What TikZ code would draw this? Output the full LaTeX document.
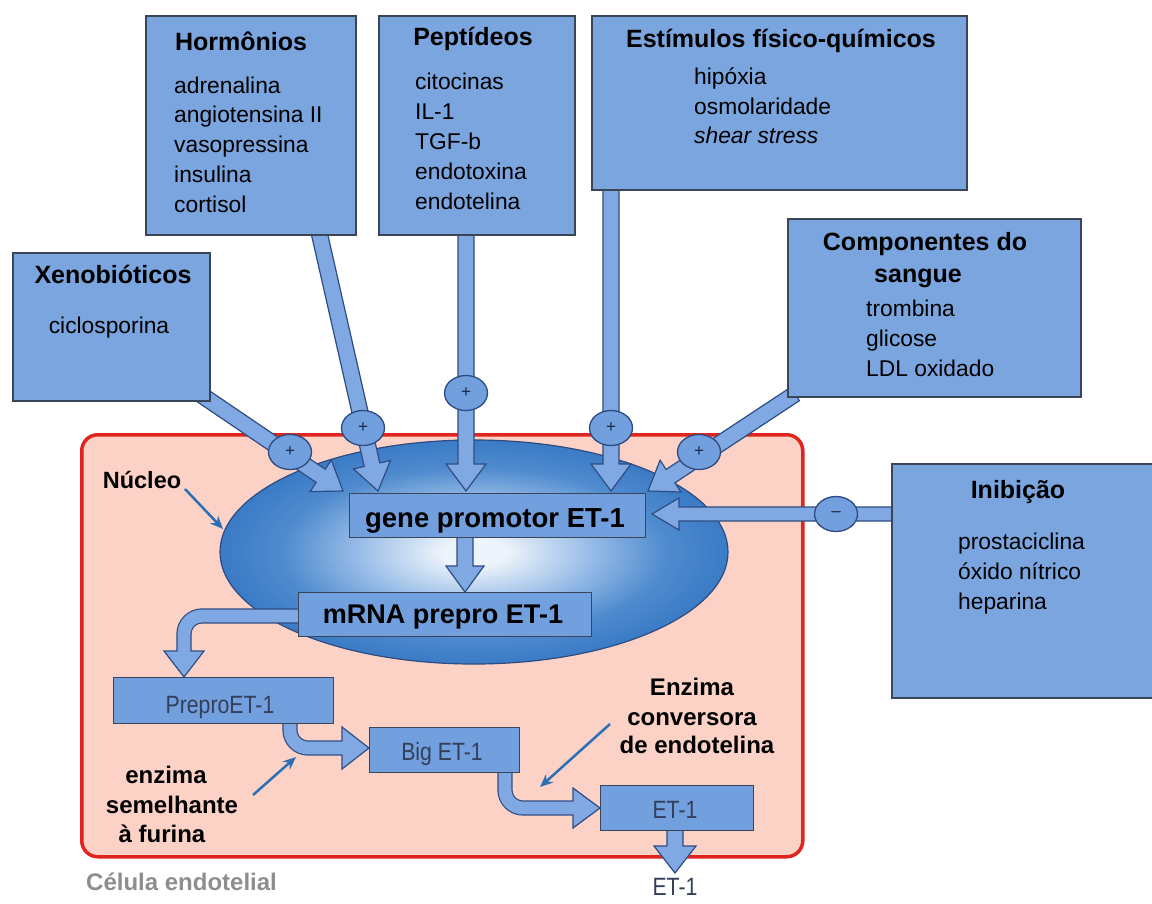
\documentclass[tikz,border=0pt]{standalone}
\usepackage{fontspec}
\setmainfont{Liberation Sans}
\newfontfamily\futura[FakeStretch=0.85]{Liberation Sans}
\usetikzlibrary{calc,shapes.geometric,arrows.meta}
\definecolor{boxfill}{HTML}{7BA5DF}
\definecolor{boxline}{HTML}{3B4558}
\definecolor{innerfill}{HTML}{729FDD}
\definecolor{arrfill}{HTML}{80A9E3}
\definecolor{arrline}{HTML}{2E4C82}
\definecolor{cellfill}{HTML}{FCD2C6}
\definecolor{cellline}{HTML}{E0241E}
\definecolor{nucout}{HTML}{3A7BC6}
\definecolor{nucmid}{HTML}{4E8ACE}
\definecolor{nuclight}{HTML}{93B9E6}
\definecolor{nucin}{HTML}{EEF4FB}
\definecolor{annot}{HTML}{2C6FB5}
\definecolor{slate}{HTML}{343F5A}
\definecolor{greytxt}{HTML}{8E8E8E}
\definecolor{pmtxt}{HTML}{1C2A40}
\pgfdeclareradialshading{nucshade}{\pgfpoint{0bp}{0bp}}{color(0bp)=(nucin); color(3bp)=(nucin); color(12bp)=(nuclight); color(19bp)=(nucmid); color(25bp)=(nucout); color(50bp)=(nucout)}
% straight fat arrow: start, tip, shaft half width, head half width, head length
\newcommand\fatarrow[5]{%
  \path ($(#2)!#5!(#1)$) coordinate (fah);
  \filldraw[fat] ($(#1)!#3!90:(#2)$) -- ($(fah)!#3!90:(#2)$) -- ($(fah)!#4!90:(#2)$) -- (#2)
     -- ($(fah)!#4!-90:(#2)$) -- ($(fah)!#3!-90:(#2)$) -- ($(#1)!#3!-90:(#2)$) -- cycle;}
% arrow head triangle: base centre, tip, half width
\newcommand\headtri[3]{%
  \filldraw[fat] ($(#1)!#3!90:(#2)$) -- (#2) -- ($(#1)!#3!-90:(#2)$) -- cycle;}
\tikzset{
  topbox/.style={draw=boxline, fill=boxfill, line width=1.5pt, anchor=north west, inner sep=0pt},
  innerbox/.style={draw=boxline, fill=innerfill, line width=1.3pt, anchor=north west, inner sep=0pt},
  title/.style={font=\bfseries\fontsize{25pt}{30pt}\selectfont, anchor=base, inner sep=0pt},
  item/.style={font=\fontsize{22.8pt}{27pt}\selectfont, anchor=base west, inner sep=0pt},
  fat/.style={fill=arrfill, draw=arrline, line width=1.2pt, line join=miter},
  shaftout/.style={draw=arrline, line width=15.2pt, rounded corners=18pt},
  shaftin/.style={draw=arrfill, line width=12.8pt, rounded corners=18pt},
  pm/.style={ellipse, draw=arrline, fill=innerfill, line width=1.3pt, minimum width=43pt, minimum height=35pt, inner sep=0pt, font=\fontsize{17pt}{17pt}\selectfont, text=pmtxt},
  lab/.style={font=\bfseries\fontsize{24pt}{30pt}\selectfont, anchor=base, inner sep=0pt},
  annarrow/.style={draw=annot, line width=2.5pt, -{Stealth[length=13pt,width=11pt]}},
  futtxt/.style={font=\futura\fontsize{25pt}{30pt}\selectfont, text=slate, anchor=base, inner sep=0pt}
}
\begin{document}
\begin{tikzpicture}[x=1pt,y=-1pt]
\useasboundingbox (0,0) rectangle (1152,903);
\fill[white] (0,0) rectangle (1152,903);
% cell
\node[draw=cellline, fill=cellfill, line width=3.5pt, rounded corners=16pt, minimum width=721pt, minimum height=422pt, anchor=north west, inner sep=0pt] (cell) at (80,433) {};
% nucleus
\node[ellipse, minimum width=508pt, minimum height=224pt, inner sep=0pt, shading=nucshade, draw=arrline, line width=1.2pt] (nucleo) at (474,552) {};
% inner arrows
\coordinate (gmS) at (465,535); \coordinate (gmT) at (465,592);
\fatarrow{gmS}{gmT}{8pt}{19pt}{26pt}
\coordinate (mp1) at (300,616); \coordinate (mp2) at (184,616); \coordinate (mp3) at (184,651); \coordinate (mpT) at (184,677); \coordinate (mp4) at (184,654);
\draw[shaftout] (mp1) -- (mp2) -- (mp3);
\headtri{mp3}{mpT}{20pt}
\draw[shaftin] (mp1) -- (mp2) -- (mp4);
\coordinate (pb1) at (290,721); \coordinate (pb2) at (290,748); \coordinate (pb3) at (342,748); \coordinate (pbT) at (369,748); \coordinate (pb4) at (345,748);
\draw[shaftout] (pb1) -- (pb2) -- (pb3);
\headtri{pb3}{pbT}{21pt}
\draw[shaftin] (pb1) -- (pb2) -- (pb4);
\coordinate (be1) at (505,770); \coordinate (be2) at (505,808); \coordinate (be3) at (573,808); \coordinate (beT) at (600,808); \coordinate (be4) at (576,808);
\draw[shaftout] (be1) -- (be2) -- (be3);
\headtri{be3}{beT}{20pt}
\draw[shaftin] (be1) -- (be2) -- (be4);
\coordinate (eoS) at (675,828); \coordinate (eoT) at (675,873);
\fatarrow{eoS}{eoT}{8pt}{21pt}{27pt}
% inner boxes
\node[innerbox, minimum width=296pt, minimum height=44pt] (gene) at (349,493) {};
\node[innerbox, minimum width=293pt, minimum height=44pt] (mrna) at (298,592) {};
\node[innerbox, minimum width=220pt, minimum height=46pt] (prepro) at (113,677) {};
\node[innerbox, minimum width=150pt, minimum height=45pt] (big) at (369,727) {};
\node[innerbox, minimum width=153pt, minimum height=45pt] (et) at (600,785) {};
\node[font=\bfseries\fontsize{27.5pt}{30pt}\selectfont, anchor=base, inner sep=0pt] (geneT) at (495,527) {gene promotor ET-1};
\node[font=\bfseries\fontsize{27pt}{30pt}\selectfont, anchor=base, inner sep=0pt] (mrnaT) at (443,623) {mRNA prepro ET-1};
\node[futtxt] (preproT) at (220,713) {PreproET-1};
\node[futtxt] (bigT) at (442,760) {Big ET-1};
\node[futtxt] (etT) at (675,818) {ET-1};
\node[futtxt] (etOut) at (675,895) {ET-1};
% outer arrows
\coordinate (hoS) at (319,232); \coordinate (hoT) at (378,491);
\coordinate (peS) at (466,232); \coordinate (peT) at (466,491);
\coordinate (esS) at (611,187); \coordinate (esT) at (611,491);
\coordinate (xeS) at (200,394); \coordinate (xeT) at (343,491);
\coordinate (coS) at (795,394); \coordinate (coT) at (648,491);
\coordinate (inS) at (893,514); \coordinate (inT) at (652,514);
\fatarrow{hoS}{hoT}{8pt}{19pt}{27pt}
\fatarrow{peS}{peT}{8pt}{20pt}{27pt}
\fatarrow{esS}{esT}{8pt}{20pt}{27pt}
\fatarrow{xeS}{xeT}{8pt}{19pt}{27pt}
\fatarrow{coS}{coT}{8pt}{19pt}{27pt}
\fatarrow{inS}{inT}{7pt}{16pt}{27pt}
% top boxes
\node[topbox, minimum width=210pt, minimum height=219pt] (horm) at (145,15) {};
\node[topbox, minimum width=196pt, minimum height=219pt] (pept) at (378,15) {};
\node[topbox, minimum width=375pt, minimum height=174pt] (estim) at (591,15) {};
\node[topbox, minimum width=293pt, minimum height=178pt] (comp) at (787,218) {};
\node[topbox, minimum width=197pt, minimum height=148pt] (xeno) at (12,252) {};
\node[topbox, minimum width=262pt, minimum height=234pt] (inib) at (891,463) {};
% circles
\node[pm] (cXe) at (290,452) {+};
\node[pm] (cHo) at (363,428) {+};
\node[pm] (cPe) at (466,393) {+};
\node[pm] (cEs) at (611,428) {+};
\node[pm] (cCo) at (699,452) {+};
\node[pm] (cIn) at (836,514) {–};
% titles
\node[title] (hormT) at (241,50) {Hormônios};
\node[title] (peptT) at (473,45) {Peptídeos};
\node[title] (estimT) at (781,47) {Estímulos físico-químicos};
\node[title] (compT) at (925,250) {Componentes do};
\node[title] (compT2) at (918,282) {sangue};
\node[title] (xenoT) at (113,283) {Xenobióticos};
\node[title] (inibT) at (1018,498) {Inibição};
% items
\foreach \t [count=\i] in {adrenalina,angiotensina II,vasopressina,insulina,cortisol}
  \node[item] (hormI\i) at (174,{93+29.8*(\i-1)}) {\t};
\foreach \t [count=\i] in {citocinas,IL-1,TGF-b,endotoxina,endotelina}
  \node[item] (peptI\i) at (415,{89+30*(\i-1)}) {\t};
\node[item] (estI1) at (694,84) {hipóxia};
\node[item] (estI2) at (694,114) {osmolaridade};
\node[item, font=\itshape\fontsize{22.8pt}{27pt}\selectfont] (estI3) at (694,143) {shear stress};
\foreach \t [count=\i] in {trombina,glicose,LDL oxidado}
  \node[item] (compI\i) at (866,{316+30*(\i-1)}) {\t};
\foreach \t [count=\i] in {prostaciclina,óxido nítrico,heparina}
  \node[item] (inibI\i) at (958,{549+30*(\i-1)}) {\t};
\node[item, anchor=base] (xenoI1) at (109,333) {ciclosporina};
% labels
\node[lab, font=\bfseries\fontsize{23.5pt}{30pt}\selectfont] (nucL) at (142,488) {Núcleo};
\node[lab] (fur1) at (166,783) {enzima};
\node[lab] (fur2) at (172,813) {semelhante};
\node[lab] (fur3) at (162,842) {à furina};
\node[lab] (ece1) at (692,695) {Enzima};
\node[lab] (ece2) at (692,725) {conversora};
\node[lab] (ece3) at (697,753) {de endotelina};
\node[lab, text=greytxt, anchor=base west] (celL) at (86,890) {Célula endotelial};
% annotation arrows
\coordinate (nA) at (185,489); \coordinate (nB) at (223,529);
\coordinate (fA) at (253,795); \coordinate (fB) at (296,757);
\coordinate (eA) at (610,724); \coordinate (eB) at (540,787);
\draw[annarrow] (nA) -- (nB);
\draw[annarrow] (fA) -- (fB);
\draw[annarrow] (eA) -- (eB);
\end{tikzpicture}
\end{document}
